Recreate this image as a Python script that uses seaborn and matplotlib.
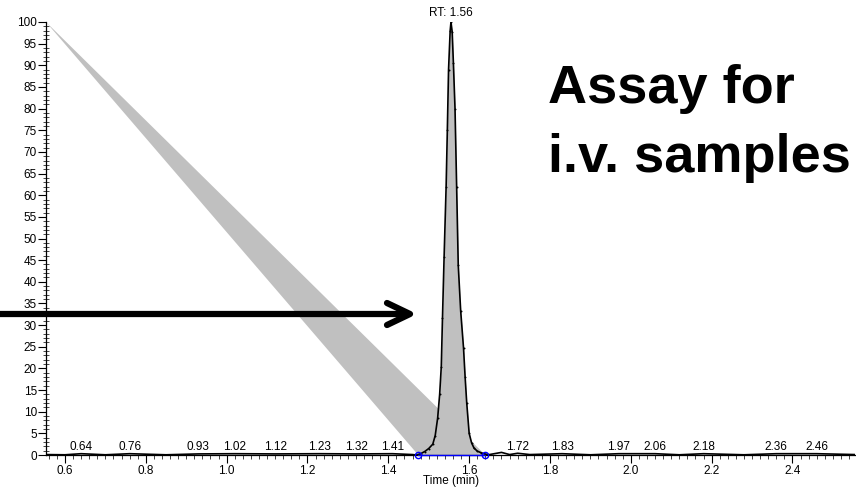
import numpy as np
import pandas as pd
import matplotlib
matplotlib.use("Agg")
import matplotlib.pyplot as plt
import seaborn as sns
from matplotlib.ticker import MultipleLocator, FormatStrFormatter
from matplotlib.lines import Line2D
from matplotlib.patches import Polygon

# ---- data ----
base_left_time = [0.553, 0.60, 0.64, 0.70, 0.76, 0.85, 0.93, 1.02, 1.12, 1.23, 1.32, 1.41, 1.46]
base_left_int = [0.1, 0.05, 0.3, 0.05, 0.3, 0.05, 0.25, 0.3, 0.25, 0.3, 0.25, 0.3, 0.1]

peak_time = [1.470, 1.480, 1.490, 1.500, 1.510, 1.516, 1.522, 1.527, 1.531, 1.534,
             1.538, 1.543, 1.546, 1.549, 1.553, 1.555, 1.558, 1.561, 1.565, 1.569,
             1.573, 1.579, 1.586, 1.590, 1.594, 1.600, 1.606, 1.612, 1.620, 1.630, 1.640]
peak_int = [0.0, 0.3, 0.8, 1.5, 2.5, 4.5, 8.5, 14.0, 20.4, 31.7,
            45.8, 62.0, 75.0, 89.0, 98.0, 100.0, 97.7, 90.5, 80.0, 62.0,
            43.8, 33.3, 24.8, 18.0, 12.0, 5.0, 2.8, 1.6, 0.9, 0.5, 0.2]

base_right_time = [1.65, 1.68, 1.70, 1.72, 1.75, 1.83, 1.90, 1.97, 2.06, 2.12, 2.18, 2.28, 2.36, 2.46, 2.555]
base_right_int = [0.1, 0.6, 0.1, 0.4, 0.1, 0.3, 0.05, 0.3, 0.3, 0.05, 0.3, 0.05, 0.3, 0.3, 0.1]

minor_rt = [0.64, 0.76, 0.93, 1.02, 1.12, 1.23, 1.32, 1.41, 1.72, 1.83, 1.97, 2.06, 2.18, 2.36, 2.46]
main_rt = 1.56
peak_start, peak_end = 1.474, 1.640

trace = pd.DataFrame({
    "time": base_left_time + peak_time + base_right_time,
    "intensity": base_left_int + peak_int + base_right_int,
})
peak_df = pd.DataFrame({"time": peak_time, "intensity": peak_int})

# ---- style ----
sns.set_theme(style="ticks")
plt.rcParams["font.family"] = ["Liberation Sans", "DejaVu Sans"]

W, H = 856, 491
fig = plt.figure(figsize=(W / 100, H / 100), dpi=100)
ax = fig.add_axes([46 / W, 36 / H, 1 - 46 / W - 0.001, 433 / H])

xmin, xmax = 0.553, 2.555
ax.set_xlim(xmin, xmax)
ax.set_ylim(0, 100)

fs = 8.5
grey = "#c0c0c0"
# decorative grey wedge pointing at the peak
ax.add_patch(Polygon([(xmin, 100), (peak_start, 0), (peak_end, 0)], closed=True,
                     facecolor=grey, edgecolor="none", zorder=1, clip_on=False))

ax.fill_between(peak_df["time"], peak_df["intensity"], 0, color=grey, zorder=2, lw=0)
sns.lineplot(data=trace, x="time", y="intensity", ax=ax, color="black", lw=1.2,
             zorder=3, estimator=None, sort=False)
sns.scatterplot(data=peak_df, x="time", y="intensity", ax=ax, color="black", s=2,
                marker="o", zorder=4, linewidth=0)

# integration baseline
ax.plot([peak_start, peak_end], [0, 0], color="#0000ff", lw=1, zorder=5, clip_on=False)
ax.plot([peak_start, peak_end], [0, 0], ls="none", marker="o", mfc="none", mec="#0000ff",
        ms=4.5, mew=1, zorder=6, clip_on=False)

# labels
for rt in minor_rt:
    ax.annotate(f"{rt:.2f}", (rt, 0), xytext=(0, 3.5), textcoords="offset points",
                ha="center", va="baseline", fontsize=fs, color="black", zorder=6)
ax.annotate(f"RT: {main_rt:.2f}", (1.555, 100), xytext=(0, 4), textcoords="offset points",
            ha="center", va="baseline", fontsize=fs, color="black", annotation_clip=False)

# axes formatting
ax.xaxis.set_major_locator(MultipleLocator(0.2))
ax.xaxis.set_minor_locator(MultipleLocator(0.02))
ax.xaxis.set_major_formatter(FormatStrFormatter("%.1f"))
ax.yaxis.set_major_locator(MultipleLocator(5))
ax.yaxis.set_minor_locator(MultipleLocator(1))
ax.tick_params(axis="x", which="major", direction="out", length=6, width=0.8,
               labelsize=fs, pad=1, colors="black")
ax.tick_params(axis="x", which="minor", direction="out", length=3, width=0.6)
ax.tick_params(axis="y", which="major", direction="out", length=6, width=0.8,
               labelsize=fs, pad=0.5, colors="black")
ax.tick_params(axis="y", which="minor", direction="inout", length=5, width=0.6)
for s in ["top", "right"]:
    ax.spines[s].set_visible(False)
for s in ["left", "bottom"]:
    ax.spines[s].set_color("black")
    ax.spines[s].set_linewidth(0.9)
ax.set_xlabel("Time (min)", fontsize=fs, labelpad=-1, color="black")
ax.set_ylabel("")
ax.set_facecolor("white")

# big title text
fig.text(548 / W, 1 - 103 / H, "Assay for", fontsize=39, fontweight="bold",
         ha="left", va="baseline", color="black")
fig.text(548 / W, 1 - 172 / H, "i.v. samples", fontsize=39, fontweight="bold",
         ha="left", va="baseline", color="black")

# black arrow
tip = (410 / W, 1 - 314 / H)
lkw = dict(color="black", lw=4.5, solid_capstyle="round", solid_joinstyle="round",
           transform=fig.transFigure, zorder=10)
fig.add_artist(Line2D([-0.01, tip[0] - 0.002], [tip[1], tip[1]], **{**lkw, "solid_capstyle": "butt"}))
fig.add_artist(Line2D([387 / W, tip[0], 387 / W], [1 - 303 / H, tip[1], 1 - 325 / H], **lkw))

fig.savefig("out.png", dpi=100, facecolor="white")
